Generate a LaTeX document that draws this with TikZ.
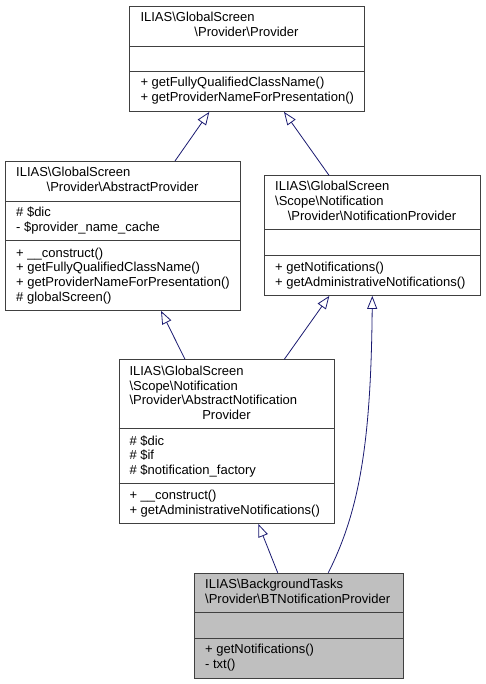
\documentclass[tikz,border=0pt]{standalone}
\usepackage{fontspec}
\setmainfont{Liberation Sans}
\usetikzlibrary{arrows.meta,calc}
\definecolor{edgecol}{HTML}{191970}
\definecolor{boxcol}{HTML}{404040}
\definecolor{shade}{HTML}{BFBFBF}
\tikzset{
  box/.style={draw=boxcol, line width=0.9pt, anchor=north west, inner sep=0pt, fill=white},
  divider/.style={draw=boxcol, line width=0.9pt},
  tl/.style={anchor=base west, inner sep=0pt, font=\fontsize{13}{15}\selectfont},
  tc/.style={anchor=base, inner sep=0pt, font=\fontsize{13}{15}\selectfont},
  inh/.style={draw=edgecol, line width=0.8pt, -{Triangle[open,length=13pt,width=10pt]}}
}
\begin{document}
\begin{tikzpicture}[x=1pt,y=-1pt]
\useasboundingbox (0,0) rectangle (485,684);
% boxes
\node[box, minimum width=235, minimum height=105.3] (p) at (129,5.7) {};
\draw[divider] (129,46) -- (364,46);
\draw[divider] (129,71) -- (364,71);
\node[box, minimum width=235, minimum height=149] (ap) at (5,161) {};
\draw[divider] (5,201) -- (240,201);
\draw[divider] (5,240.7) -- (240,240.7);
\node[box, minimum width=216, minimum height=119.7] (np) at (264,175.3) {};
\draw[divider] (264,229.7) -- (480,229.7);
\draw[divider] (264,255.7) -- (480,255.7);
\node[box, minimum width=215.6, minimum height=163.7] (anp) at (118.7,359.3) {};
\draw[divider] (118.7,428.7) -- (334.3,428.7);
\draw[divider] (118.7,483.3) -- (334.3,483.3);
\node[box, fill=shade, minimum width=209.3, minimum height=105] (bt) at (194,572.7) {};
\draw[divider] (194,612.7) -- (403.3,612.7);
\draw[divider] (194,638) -- (403.3,638);
% texts box p
\node[tl] (p1) at (140.3,21.8) {ILIAS\textbackslash GlobalScreen};
\node[tc] (p2) at (246.5,36.8) {\textbackslash Provider\textbackslash Provider};
\node[tl] (p3) at (140.3,86.8) {+ getFullyQualifiedClassName()};
\node[tl] (p4) at (140.3,101.8) {+ getProviderNameForPresentation()};
% texts box ap
\node[tl] (ap1) at (16,176.8) {ILIAS\textbackslash GlobalScreen};
\node[tc] (ap2) at (122.5,191.3) {\textbackslash Provider\textbackslash AbstractProvider};
\node[tl] (ap3) at (16,216.8) {\# \$dic};
\node[tl] (ap4) at (16,231.5) {- \$provider\_name\_cache};
\node[tl] (ap5) at (16,257.2) {+ \_\_construct()};
\node[tl] (ap6) at (16,271.9) {+ getFullyQualifiedClassName()};
\node[tl] (ap7) at (16,286.6) {+ getProviderNameForPresentation()};
\node[tl] (ap8) at (16,301.3) {\# globalScreen()};
% texts box np
\node[tl] (np1) at (275,190.5) {ILIAS\textbackslash GlobalScreen};
\node[tl] (np2) at (275,205.5) {\textbackslash Scope\textbackslash Notification};
\node[tc] (np3) at (372,220.5) {\textbackslash Provider\textbackslash NotificationProvider};
\node[tl] (np4) at (275,271.2) {+ getNotifications()};
\node[tl] (np5) at (275,286.2) {+ getAdministrativeNotifications()};
% texts box anp
\node[tl] (anp1) at (129.3,375.2) {ILIAS\textbackslash GlobalScreen};
\node[tl] (anp2) at (129.3,390) {\textbackslash Scope\textbackslash Notification};
\node[tl] (anp3) at (129.3,404.8) {\textbackslash Provider\textbackslash AbstractNotification};
\node[tc] (anp4) at (226.5,419.4) {Provider};
\node[tl] (anp5) at (129.3,445.2) {\# \$dic};
\node[tl] (anp6) at (129.3,459.5) {\# \$if};
\node[tl] (anp7) at (129.3,474.2) {\# \$notification\_factory};
\node[tl] (anp8) at (129.3,499.2) {+ \_\_construct()};
\node[tl] (anp9) at (129.3,514.2) {+ getAdministrativeNotifications()};
% texts box bt
\node[tl] (bt1) at (205,588.8) {ILIAS\textbackslash BackgroundTasks};
\node[tl] (bt2) at (205,603.5) {\textbackslash Provider\textbackslash BTNotificationProvider};
\node[tl] (bt3) at (205,653.8) {+ getNotifications()};
\node[tl] (bt4) at (205,668.5) {- txt()};
% edges
\draw[inh] ($(ap.north west)+(170,0)$) -- ($(p.south west)+(80.3,0)$);
\draw[inh] ($(np.north west)+(65,0)$) -- ($(p.south west)+(155,0)$);
\draw[inh] ($(anp.north west)+(66.3,0)$) -- ($(ap.south west)+(156,0)$);
\draw[inh] ($(anp.north west)+(165.6,0)$) -- ($(np.south west)+(65.3,0)$);
\draw[inh] ($(bt.north west)+(83.7,0)$) -- ($(anp.south west)+(139.6,0)$);
\coordinate (c1) at (360,510);
\coordinate (c2) at (371,440);
\draw[inh] ($(bt.north west)+(134.3,0)$) .. controls (c1) and (c2) .. ($(np.south west)+(108.3,0)$);
\end{tikzpicture}
\end{document}
